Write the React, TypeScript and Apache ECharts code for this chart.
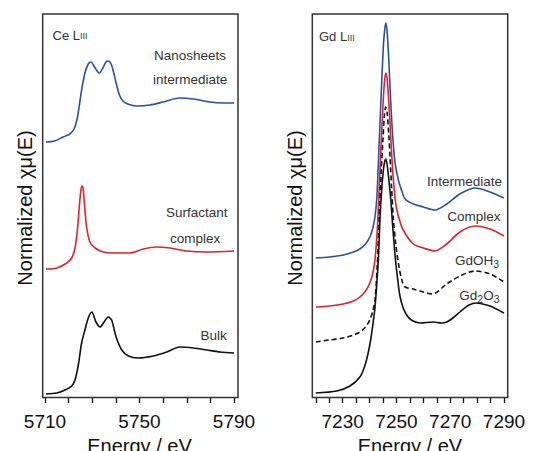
import React, { useEffect, useRef } from "react";
import * as echarts from "echarts";

// ---- Ce L-III panel (energy eV, normalized xmu offset) ----
const ceNanosheets: [number, number][] = [
  [5710.4, 2.56], [5714, 2.57], [5717.7, 2.61], [5720.5, 2.64], [5722.3, 2.69], [5723.5, 2.78],
  [5724.5, 2.92], [5725.5, 3.08], [5726.9, 3.25], [5728.3, 3.34], [5729.5, 3.36], [5730.5, 3.33],
  [5731.5, 3.29], [5733, 3.25], [5734.5, 3.3], [5735.8, 3.36], [5736.8, 3.37], [5738, 3.34],
  [5739, 3.26], [5740.1, 3.15], [5741.5, 3.03], [5743, 2.97], [5745, 2.94], [5748.8, 2.92],
  [5754.4, 2.93], [5760, 2.96], [5767, 3.0], [5772.8, 2.99], [5779.8, 2.96], [5785.5, 2.95], [5790, 2.95],
];
const ceSurfactant: [number, number][] = [
  [5710.4, 1.29], [5715, 1.3], [5719.2, 1.35], [5721.3, 1.4], [5722.7, 1.5], [5723.7, 1.68],
  [5724.5, 1.91], [5725.1, 2.06], [5725.6, 2.12], [5726.1, 2.1], [5726.8, 1.91], [5727.6, 1.71],
  [5729, 1.56], [5731.2, 1.5], [5734.7, 1.46], [5740.3, 1.45], [5746, 1.45], [5751.6, 1.49],
  [5757.3, 1.51], [5762.9, 1.5], [5770, 1.47], [5778.4, 1.46], [5790, 1.47],
];
const ceBulk: [number, number][] = [
  [5710.4, 0.04], [5715, 0.05], [5718.5, 0.08], [5721.3, 0.12], [5722.7, 0.18], [5724.1, 0.33],
  [5725.5, 0.55], [5726.9, 0.68], [5728.3, 0.8], [5729.8, 0.86], [5731.6, 0.76], [5733.3, 0.71],
  [5735, 0.76], [5736.8, 0.81], [5738.2, 0.78], [5740.1, 0.61], [5742.5, 0.48], [5745.3, 0.42],
  [5749.5, 0.4], [5755.8, 0.42], [5761.5, 0.46], [5767.1, 0.51], [5772.8, 0.5], [5778.4, 0.48],
  [5784.1, 0.46], [5790, 0.45],
];

// ---- Gd L-III panel ----
const gdIntermediate: [number, number][] = [
  [7220, 1.4], [7225, 1.41], [7230.2, 1.43], [7234, 1.46], [7236.4, 1.49], [7238.5, 1.54],
  [7240.1, 1.61], [7241.2, 1.7], [7242, 1.81], [7242.7, 2.0], [7243.2, 2.3], [7243.8, 2.7],
  [7244.5, 3.15], [7245.2, 3.55], [7245.7, 3.7], [7246.1, 3.75], [7246.6, 3.64], [7247.2, 3.35],
  [7247.8, 3.0], [7248.6, 2.62], [7249.5, 2.35], [7250.7, 2.18], [7252, 2.07], [7253.2, 1.99],
  [7256.3, 1.94], [7260, 1.91], [7264.3, 1.88], [7268.7, 1.94], [7273.6, 2.04], [7279.2, 2.1],
  [7284.8, 2.06], [7290, 2.0],
];
const gdComplex: [number, number][] = [
  [7220, 0.91], [7225, 0.92], [7230.2, 0.94], [7234, 0.97], [7236.4, 1.01], [7238.5, 1.07],
  [7240.1, 1.15], [7241.2, 1.25], [7242, 1.38], [7242.8, 1.65], [7243.6, 2.1], [7244.3, 2.55],
  [7244.9, 2.88], [7245.5, 3.15], [7246.0, 3.25], [7246.5, 3.2], [7247.1, 2.98], [7247.6, 2.75],
  [7248.2, 2.45], [7248.8, 2.2], [7249.7, 1.95], [7250.7, 1.82], [7252.5, 1.68], [7256.3, 1.54],
  [7260, 1.5], [7264.3, 1.47], [7268.7, 1.54], [7273.6, 1.66], [7279.2, 1.72], [7284.8, 1.69], [7290, 1.62],
];
const gdOH3: [number, number][] = [
  [7220, 0.56], [7225, 0.58], [7230.2, 0.6], [7234, 0.63], [7236.4, 0.66], [7238.5, 0.71],
  [7240.1, 0.78], [7241.2, 0.87], [7242, 0.98], [7242.8, 1.3], [7243.6, 1.81], [7244.3, 2.25],
  [7244.9, 2.55], [7245.5, 2.82], [7246.0, 2.91], [7246.5, 2.86], [7247.1, 2.65], [7247.6, 2.41],
  [7248.2, 2.1], [7248.8, 1.81], [7249.7, 1.55], [7250.7, 1.35], [7252, 1.18], [7253.2, 1.11],
  [7256.3, 1.09], [7260, 1.06], [7263.3, 1.04], [7268.7, 1.14], [7273.6, 1.22], [7279.2, 1.27],
  [7284.8, 1.24], [7290, 1.16],
];
const gd2O3: [number, number][] = [
  [7220, 0.05], [7227.8, 0.07], [7232.7, 0.12], [7236.4, 0.21], [7238.2, 0.32], [7239.4, 0.44],
  [7240.4, 0.58], [7241.3, 0.75], [7242, 0.9], [7242.7, 1.15], [7243.3, 1.4], [7243.9, 1.81],
  [7244.5, 2.08], [7245.1, 2.27], [7245.6, 2.36], [7246.0, 2.39], [7246.5, 2.34], [7247.1, 2.2],
  [7247.9, 1.98], [7248.6, 1.72], [7249.4, 1.45], [7250.3, 1.22], [7251.3, 1.02], [7252.5, 0.9],
  [7253.8, 0.83], [7255.5, 0.78], [7258.7, 0.75], [7263.7, 0.76], [7266.7, 0.75], [7268.7, 0.76],
  [7271, 0.8], [7273.6, 0.86], [7277, 0.93], [7279.8, 0.95], [7282, 0.94], [7284.8, 0.92], [7290, 0.85],
];

const ceTickLabels = [5710, 5750, 5790];
const gdTickLabels = [7230, 7250, 7270, 7290];

const FONT = "Liberation Sans, Arial, Helvetica, sans-serif";
const BLUE = "#2a4ea6";
const RED = "#e5202b";
const BLACK = "#111111";
const TEXT = "#333333";

export default function App() {
  const ref = useRef<HTMLDivElement>(null);
  useEffect(() => {
    if (!ref.current) return;
    const chart = echarts.init(ref.current, undefined, { renderer: "svg" });

    const xAxisBase = (idx: number, min: number, max: number, interval: number, labels: number[]) => ({
      type: "value",
      gridIndex: idx,
      min,
      max,
      interval,
      offset: 1.5,
      axisLine: { show: false },
      axisTick: { show: true, length: 5, lineStyle: { color: BLACK, width: 1.3 } },
      splitLine: { show: false },
      axisLabel: {
        margin: 12.5,
        fontSize: 19,
        fontFamily: FONT,
        color: BLACK,
        formatter: (v: number) => (labels.includes(Math.round(v)) ? String(Math.round(v)) : ""),
      },
      name: "Energy / eV",
      nameLocation: "middle",
      nameGap: 31,
      nameTextStyle: { fontSize: 20, fontFamily: FONT, color: BLACK },
    });

    const yAxisBase = (idx: number) => ({
      type: "value",
      gridIndex: idx,
      min: 0,
      max: 3.84,
      show: false,
    });

    const line = (name: string, data: [number, number][], idx: number, color: string, dashed = false) => ({
      type: "line",
      name,
      xAxisIndex: idx,
      yAxisIndex: idx,
      data,
      showSymbol: false,
      smooth: 0.3,
      lineStyle: { color, width: 1.6, type: dashed ? [5, 3] : "solid" },
      z: 3,
    });

    const richLabel = (x: number, y: number, text: string, rich: any, align = "left") => ({
      type: "text",
      x,
      y,
      style: { text, rich, align, verticalAlign: "middle", fill: TEXT, font: `13px ${FONT}` },
    });

    const n = { fontSize: 13.5, fontFamily: FONT, color: TEXT, verticalAlign: "bottom", padding: [0, 0, 2, 0] };
    const sub = { fontSize: 10.5, fontFamily: FONT, color: TEXT, verticalAlign: "bottom" };
    const big = { fontSize: 13, fontFamily: FONT, color: TEXT, verticalAlign: "bottom" };
    const sc = { fontSize: 9, fontFamily: FONT, color: TEXT, verticalAlign: "bottom", padding: [0, 0, 1, 0] };

    const plain = (x: number, y: number, text: string, align = "left") => ({
      type: "text",
      x,
      y,
      style: { text, align, verticalAlign: "middle", fill: TEXT, font: `13.5px ${FONT}` },
    });

    chart.setOption({
      animation: false,
      backgroundColor: "#ffffff",
      grid: [
        { left: 45, top: 14, width: 189, height: 384, containLabel: false, outerBoundsMode: "none" },
        { left: 315.8, top: 14, width: 188.2, height: 384, containLabel: false, outerBoundsMode: "none" },
      ],
      xAxis: [
        xAxisBase(0, 5710, 5790, 10, ceTickLabels),
        xAxisBase(1, 7220, 7290, 5, gdTickLabels),
      ],
      yAxis: [yAxisBase(0), yAxisBase(1)],
      series: [
        line("Nanosheets intermediate", ceNanosheets, 0, BLUE),
        line("Surfactant complex", ceSurfactant, 0, RED),
        line("Bulk", ceBulk, 0, BLACK),
        line("Intermediate", gdIntermediate, 1, BLUE),
        line("Complex", gdComplex, 1, RED),
        line("GdOH3", gdOH3, 1, BLACK, true),
        line("Gd2O3", gd2O3, 1, BLACK),
      ],
      graphic: [
        { type: "rect", shape: { x: 42.7, y: 14, width: 195.3, height: 383.5 }, style: { fill: "none", stroke: "#333", lineWidth: 1.5 }, z: 10 },
        { type: "rect", shape: { x: 312.3, y: 14, width: 195.4, height: 383.5 }, style: { fill: "none", stroke: "#333", lineWidth: 1.5 }, z: 10 },
        {
          type: "text", x: 25, y: 208, rotation: Math.PI / 2,
          style: { text: "Normalized χμ(E)", align: "center", verticalAlign: "middle", fill: BLACK, font: `20px ${FONT}` },
        },
        {
          type: "text", x: 295, y: 208, rotation: Math.PI / 2,
          style: { text: "Normalized χμ(E)", align: "center", verticalAlign: "middle", fill: BLACK, font: `20px ${FONT}` },
        },
        richLabel(52.5, 35, "{b|Ce L}{s|III}", { b: big, s: sc }),
        plain(154, 55, "Nanosheets"),
        plain(153, 79.3, "intermediate"),
        plain(166, 212.7, "Surfactant"),
        plain(170, 238.3, "complex"),
        plain(200.5, 335.7, "Bulk"),
        richLabel(319, 36.5, "{b|Gd L}{s|III}", { b: big, s: sc }),
        plain(502, 181, "Intermediate", "right"),
        plain(500.5, 216.7, "Complex", "right"),
        richLabel(499, 261, "{n|GdOH}{u|3}", { n, u: sub }, "right"),
        richLabel(499.5, 296.5, "{n|Gd}{u|2}{n|O}{u|3}", { n, u: sub }, "right"),
      ],
    });
    return () => chart.dispose();
  }, []);
  return <div ref={ref} style={{ position: "fixed", left: 0, top: 0, width: 533, height: 451 }} />;
}
